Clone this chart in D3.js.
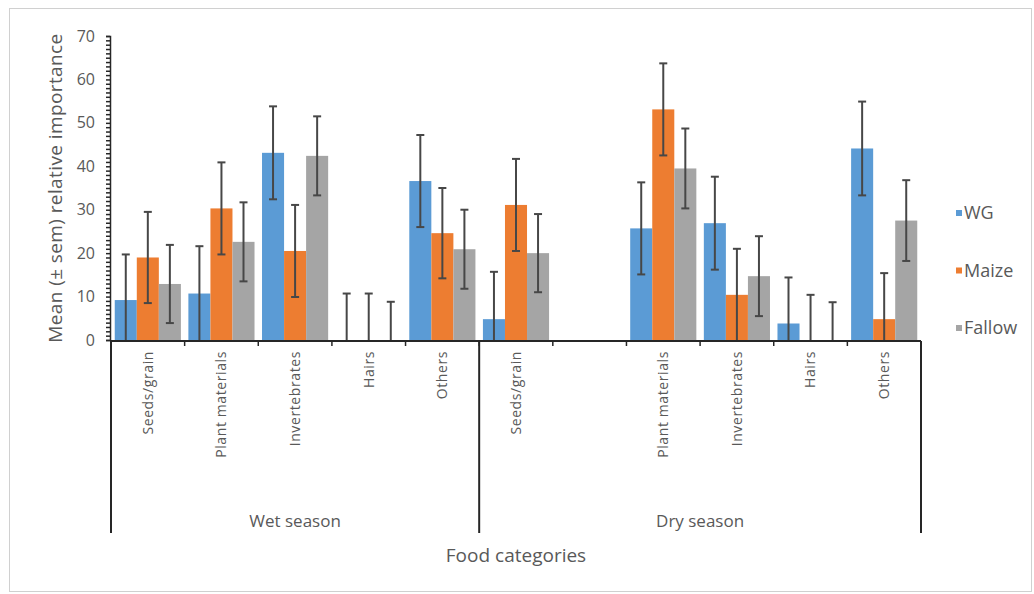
<!DOCTYPE html>
<meta charset="utf-8" />
<script src="https://d3js.org/d3.v7.min.js"></script>
<style>
  body { margin: 0; background: #fff; }
  text { font-family: "Open Sans", "Liberation Sans", sans-serif; fill: #595959; }
</style>
<div id="chart"></div>
<script>
  // data (mean and sem per food category)
  const seasons = ["Wet season", "Dry season"];
  const slots = [
    "W|Seeds/grain", "W|Plant materials", "W|Invertebrates", "W|Hairs", "W|Others",
    "D|Seeds/grain", "D|", "D|Plant materials", "D|Invertebrates", "D|Hairs", "D|Others"
  ];
  const seriesNames = ["WG", "Maize", "Fallow"];
  const colors = ["#5b9bd5", "#ed7d31", "#a5a5a5"];

  const wgMean = [9.2, 10.7, 43.1, 0, 36.6, 4.8, null, 25.7, 26.9, 3.8, 44.1];
  const wgSem = [10.5, 10.9, 10.7, 10.7, 10.6, 10.9, null, 10.6, 10.7, 10.6, 10.8];
  const maizeMean = [19.0, 30.3, 20.5, 0, 24.6, 31.1, null, 53.1, 10.4, 0, 4.8];
  const maizeSem = [10.5, 10.6, 10.6, 10.7, 10.4, 10.6, null, 10.6, 10.6, 10.4, 10.6];
  const fallowMean = [12.9, 22.6, 42.4, 0, 20.9, 20.0, null, 39.5, 14.7, 0, 27.5];
  const fallowSem = [9.0, 9.1, 9.1, 8.8, 9.1, 9.0, null, 9.2, 9.2, 8.7, 9.3];

  const means = [wgMean, maizeMean, fallowMean];
  const sems = [wgSem, maizeSem, fallowSem];

  const W = 1034, H = 594;
  const svg = d3.select("#chart").append("svg").attr("width", W).attr("height", H);

  // outer frame
  svg.append("rect")
    .attr("x", 9.5).attr("y", 8.5).attr("width", 1022).attr("height", 583)
    .attr("fill", "#fff").attr("stroke", "#d0d0d0");

  const x = d3.scaleBand().domain(slots).range([111, 921]).padding(0);
  const xs = d3.scaleBand().domain(seriesNames).range([0, x.bandwidth()]).paddingOuter(0.17).paddingInner(0);
  const y = d3.scaleLinear().domain([0, 70]).range([340, 36]);

  // bars
  const bars = [];
  seriesNames.forEach((s, si) => {
    slots.forEach((c, ci) => {
      if (means[si][ci] !== null) bars.push({ s, si, c, v: means[si][ci], e: sems[si][ci] });
    });
  });

  svg.append("g").selectAll("rect").data(bars).join("rect")
    .attr("x", d => x(d.c) + xs(d.s))
    .attr("width", xs.bandwidth())
    .attr("y", d => y(d.v))
    .attr("height", d => y(0) - y(d.v))
    .attr("fill", d => colors[d.si]);

  // error bars
  const eb = svg.append("g").attr("stroke", "#474747").attr("stroke-width", 2);
  bars.forEach(d => {
    const cx = x(d.c) + xs(d.s) + xs.bandwidth() / 2;
    const top = y(d.v + d.e);
    const bot = y(Math.max(0, d.v - d.e));
    eb.append("line").attr("x1", cx).attr("x2", cx).attr("y1", top).attr("y2", bot);
    eb.append("line").attr("x1", cx - 4).attr("x2", cx + 4).attr("y1", top).attr("y2", top);
    if (d.v - d.e > 0)
      eb.append("line").attr("x1", cx - 4).attr("x2", cx + 4).attr("y1", bot).attr("y2", bot);
  });

  // y axis with minor ticks
  const yAxis = svg.append("g").attr("transform", "translate(110,0)");
  yAxis.call(d3.axisLeft(y).tickValues(d3.range(0, 71, 1)).tickSize(4).tickFormat(""));
  yAxis.selectAll("line, path").attr("stroke", "#262626").attr("stroke-width", 1.5);
  const yLab = svg.append("g").attr("transform", "translate(110,0)");
  yLab.call(d3.axisLeft(y).tickValues(d3.range(0, 71, 10)).tickSize(0).tickPadding(15));
  yLab.select(".domain").remove();
  yLab.selectAll("text").style("font-size", "16px").attr("fill", "#595959");

  // x axis
  const xAxis = svg.append("g").attr("transform", "translate(0,341)");
  xAxis.append("line").attr("x1", 111).attr("x2", 921).attr("stroke", "#262626").attr("stroke-width", 2);
  xAxis.selectAll(".tk").data(slots.slice(1)).join("line")
    .attr("x1", d => x(d)).attr("x2", d => x(d)).attr("y1", 0).attr("y2", 5)
    .attr("stroke", "#262626").attr("stroke-width", 1.5);

  // season separators
  [111, x("D|Seeds/grain"), 921].forEach(px => {
    svg.append("line").attr("x1", px).attr("x2", px).attr("y1", 341).attr("y2", 533)
      .attr("stroke", "#262626").attr("stroke-width", 2);
  });

  // category labels
  svg.append("g").selectAll("text").data(slots).join("text")
    .attr("transform", d => `translate(${x(d) + x.bandwidth() / 2},351) rotate(-90)`)
    .attr("text-anchor", "end")
    .attr("dy", "0.35em")
    .style("font-size", "14px")
    .style("letter-spacing", "0.6px")
    .text(d => d.split("|")[1]);

  // season labels
  svg.selectAll(".season").data(seasons).join("text")
    .attr("x", (d, i) => i === 0 ? (111 + x("D|Seeds/grain")) / 2 : (x("D|Seeds/grain") + 921) / 2)
    .attr("y", 527)
    .attr("text-anchor", "middle")
    .style("font-size", "17px")
    .text(d => d);

  // axis titles
  svg.append("text").attr("x", 516).attr("y", 562).attr("text-anchor", "middle")
    .style("font-size", "19px").text("Food categories");
  svg.append("text").attr("transform", "translate(62,188) rotate(-90)").attr("text-anchor", "middle")
    .style("font-size", "19px").style("letter-spacing", "0.4px").text("Mean (\u00b1 sem) relative importance");

  // legend
  const leg = svg.append("g").selectAll("g").data(seriesNames).join("g")
    .attr("transform", (d, i) => `translate(956,${213 + i * 57.5})`);
  leg.append("rect").attr("x", 0).attr("y", -3).attr("width", 6).attr("height", 6)
    .attr("fill", (d, i) => colors[i]);
  leg.append("text").attr("x", 8).attr("dy", "0.35em").style("font-size", "18px").text(d => d);
</script>
